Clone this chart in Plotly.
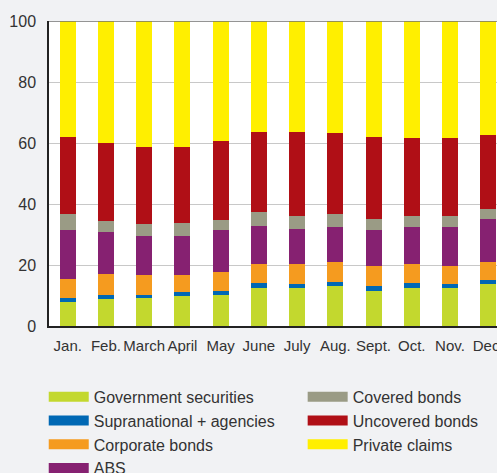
import plotly.graph_objects as go

months = ["Jan.", "Feb.", "March", "April", "May", "June",
          "July", "Aug.", "Sept.", "Oct.", "Nov.", "Dec."]

government = [7.9, 8.9, 9.2, 9.8, 10.2, 12.5, 12.5, 13.1, 11.5, 12.5, 12.5, 13.8]
supranational = [1.3, 1.3, 1.0, 1.3, 1.3, 1.6, 1.3, 1.3, 1.6, 1.6, 1.3, 1.3]
corporate = [6.2, 6.8, 6.5, 5.6, 6.2, 6.2, 6.5, 6.6, 6.6, 6.2, 5.9, 5.9]
abs_ = [16.1, 13.8, 12.8, 12.8, 13.8, 12.5, 11.5, 11.5, 11.8, 12.2, 12.8, 14.1]
covered = [5.2, 3.6, 3.9, 4.3, 3.3, 4.6, 4.3, 4.2, 3.6, 3.6, 3.6, 3.3]
uncovered = [25.3, 25.6, 25.3, 24.9, 25.9, 26.2, 27.5, 26.6, 26.9, 25.5, 25.5, 24.2]
private = [38.0, 40.0, 41.3, 41.3, 39.3, 36.4, 36.4, 36.7, 38.0, 38.4, 38.4, 37.4]

series = [
    ("Government securities", government, "#c3d82e", "legend"),
    ("Supranational + agencies", supranational, "#0068b4", "legend"),
    ("Corporate bonds", corporate, "#f59b1f", "legend"),
    ("ABS", abs_, "#862171", "legend"),
    ("Covered bonds", covered, "#9a9b85", "legend2"),
    ("Uncovered bonds", uncovered, "#b00f16", "legend2"),
    ("Private claims", private, "#ffef00", "legend2"),
]

FONT = "Liberation Sans, Arial, sans-serif"

fig = go.Figure()
for name, vals, color, leg in series:
    fig.add_trace(go.Bar(x=months, y=vals, name=name, marker_color=color,
                         marker_line_width=0, width=0.42, showlegend=False))
    # wide swatch for the legend
    fig.add_trace(go.Scatter(x=[None], y=[None], mode="lines", name=name,
                             line=dict(color=color, width=12), legend=leg))

fig.add_shape(type="line", xref="paper", yref="y", x0=0, x1=1, y0=100, y1=100,
              line=dict(color="#707070", width=1.5), layer="above")

legend_style = dict(font=dict(family=FONT, size=16, color="#333333"),
                    bgcolor="rgba(0,0,0,0)", orientation="v",
                    xref="container", yref="container",
                    yanchor="top", xanchor="left", itemwidth=40,
                    tracegroupgap=0, traceorder="normal")

fig.update_layout(
    width=497, height=473,
    barmode="stack",
    paper_bgcolor="#f1f2f4",
    plot_bgcolor="#ffffff",
    margin=dict(l=49, r=0, t=21, b=147, autoexpand=False),
    font=dict(family=FONT, size=16, color="#333333"),
    legend=dict(x=0.088, y=0.197, **legend_style),
    legend2=dict(x=0.609, y=0.197, **legend_style),
    xaxis=dict(range=[-0.49, 11.23], showline=True, linecolor="#222222",
               linewidth=1.5, ticks="outside", ticklen=5, tickangle=0,
               tickcolor="rgba(0,0,0,0)", showgrid=False, automargin=False,
               tickfont=dict(size=15)),
    yaxis=dict(range=[0, 100], tickvals=[0, 20, 40, 60, 80, 100],
               showline=True, linecolor="#222222", linewidth=1.5,
               gridcolor="#c8c8c8", gridwidth=1.3, zeroline=False,
               ticks="outside", ticklen=8, tickcolor="rgba(0,0,0,0)",
               automargin=False, tickfont=dict(size=16)),
)

fig.write_html("out.html", config={"displayModeBar": False},
               post_script="document.body.style.margin='0px';")
